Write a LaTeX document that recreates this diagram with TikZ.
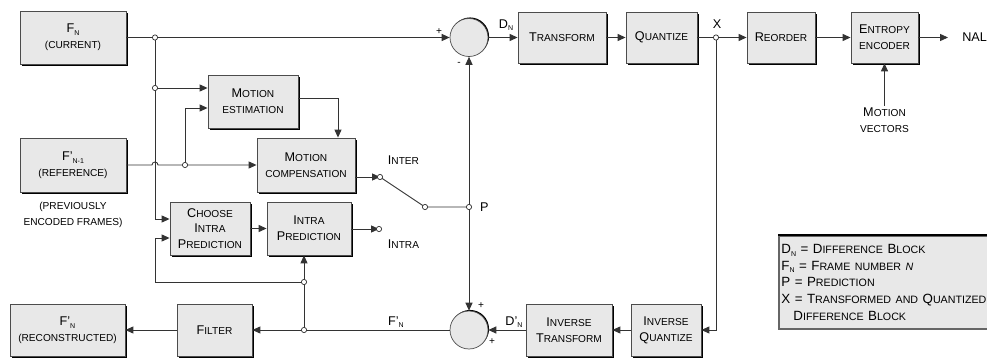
\documentclass[tikz,border=0pt]{standalone}
\usepackage{fontspec}
\usepackage{relsize}
\setmainfont{Liberation Sans}
\usetikzlibrary{arrows.meta,shadows,positioning}

\definecolor{boxgray}{RGB}{232,232,232}
\newcommand{\capsm}[1]{{\relscale{0.8}#1}}
\newcommand{\smc}[2]{#1\capsm{#2}}
\newcommand{\subx}[1]{\raisebox{-0.4ex}{\fontsize{4}{4}\selectfont #1}}

\begin{document}
\begin{tikzpicture}[
    font=\fontsize{7.2}{9}\selectfont,
    block/.style={draw=black!70,fill=boxgray,align=center,inner sep=1pt,line width=0.5pt,
        drop shadow={shadow xshift=1pt,shadow yshift=-1pt,fill=black,opacity=1}},
    sumnode/.style={draw=black!70,fill=boxgray,circle,minimum size=0.76cm,inner sep=0pt,
        drop shadow={shadow xshift=0.6pt,shadow yshift=0.6pt,fill=black,opacity=1}},
    jdot/.style={circle,draw=black!80,fill=white,inner sep=0pt,minimum size=3pt,line width=0.4pt},
    conn/.style={draw=black!80,line width=0.5pt},
    arr/.style={conn,-{Triangle[length=4.5pt,width=4pt]}},
    lbl/.style={inner sep=1pt,align=center}
]
    \useasboundingbox (0,0) rectangle (19.74,-7.16);

    % Inputs
    \node[block,minimum width=2.12cm,minimum height=1.06cm] (cur) at (1.46,-0.75) {F\subx{N}\\\capsm{(CURRENT)}};
    \node[block,minimum width=2.12cm,minimum height=1.08cm] (ref) at (1.46,-3.30) {F'\subx{N-1}\\\capsm{(REFERENCE)}};
    \node[lbl] (prev) at (1.46,-4.30) {\capsm{(PREVIOUSLY}\\\capsm{ENCODED FRAMES)}};

    % Prediction blocks
    \node[block,minimum width=1.80cm,minimum height=1.06cm] (me) at (5.06,-2.03) {\smc{M}{OTION}\\\capsm{ESTIMATION}};
    \node[block,minimum width=1.96cm,minimum height=1.08cm] (mc) at (6.12,-3.30) {\smc{M}{OTION}\\\capsm{COMPENSATION}};
    \node[block,minimum width=1.60cm,minimum height=1.06cm] (cip) at (4.20,-4.57) {\smc{C}{HOOSE}\\\smc{I}{NTRA}\\\smc{P}{REDICTION}};
    \node[block,minimum width=1.68cm,minimum height=1.06cm] (ip) at (6.18,-4.57) {\smc{I}{NTRA}\\\smc{P}{REDICTION}};

    % Forward path
    \node[sumnode] (sumA) at (9.38,-0.75) {};
    \node[block,minimum width=1.76cm,minimum height=1.02cm] (tr) at (11.24,-0.75) {\smc{T}{RANSFORM}};
    \node[block,minimum width=1.42cm,minimum height=1.02cm] (qu) at (13.23,-0.75) {\smc{Q}{UANTIZE}};
    \node[block,minimum width=1.36cm,minimum height=1.02cm] (ro) at (15.62,-0.75) {\smc{R}{EORDER}};
    \node[block,minimum width=1.34cm,minimum height=1.02cm] (ee) at (17.69,-0.75) {\smc{E}{NTROPY}\\\capsm{ENCODER}};
    \node[anchor=west,inner sep=0pt] (nal) at (19.24,-0.75) {NAL};
    \node[lbl] (mv) at (17.69,-2.40) {\smc{M}{OTION}\\\capsm{VECTORS}};

    % Reconstruction path
    \node[sumnode] (sumB) at (9.38,-6.60) {};
    \node[block,minimum width=1.72cm,minimum height=1.04cm] (it) at (11.38,-6.60) {\smc{I}{NVERSE}\\\smc{T}{RANSFORM}};
    \node[block,minimum width=1.40cm,minimum height=1.04cm] (iq) at (13.32,-6.60) {\smc{I}{NVERSE}\\\smc{Q}{UANTIZE}};
    \node[block,minimum width=1.50cm,minimum height=1.04cm] (filt) at (4.29,-6.60) {\smc{F}{ILTER}};
    \node[block,minimum width=2.30cm,minimum height=1.04cm] (recon) at (1.35,-6.60) {F'\subx{N}\\\capsm{(RECONSTRUCTED)}};

    % Junctions and switch contacts
    \coordinate (j1) at (3.10,-0.75);
    \coordinate (j2) at (3.10,-1.76);
    \coordinate (j3) at (3.70,-3.30);
    \coordinate (hop) at (3.04,-3.30);
    \coordinate (jx) at (14.32,-0.75);
    \coordinate (jp) at (9.38,-4.14);
    \coordinate (jf) at (6.08,-6.60);
    \coordinate (jl) at (6.08,-5.64);
    \coordinate (loop) at (3.10,-5.64);
    \coordinate (swA) at (7.60,-3.54);
    \coordinate (swB) at (7.58,-4.58);
    \coordinate (swP) at (8.50,-4.14);
    \coordinate (meinB) at (0,-2.16);
    \coordinate (meout) at (0,-1.96);
    \coordinate (mcin) at (6.76,0);
    \coordinate (cinA) at (0,-4.38);
    \coordinate (cinB) at (0,-4.76);

    % Connectors
    \draw[arr] (cur) -- (sumA);
    \draw[arr] (sumA) -- (tr);
    \draw[arr] (tr) -- (qu);
    \draw[arr] (qu) -- (ro);
    \draw[arr] (ro) -- (ee);
    \draw[arr,shorten >=0.28cm] (ee) -- (nal);
    \draw[arr] (mv) -- (ee);

    \draw[conn] (j1) -- (j2);
    \draw[arr] (j2) -- (me.west |- j2);
    \draw[arr] (j2) |- (cip.west |- cinA);
    \draw[arr] (ref) -- (hop) arc[start angle=180,end angle=0,radius=0.06cm] -- (mc);
    \draw[arr] (j3) |- (me.west |- meinB);
    \draw[arr] (me.east |- meout) -| (mcin |- mc.north);
    \draw[arr] (cip) -- (ip);

    \draw[arr] (mc.east |- swA) -- (swA);
    \draw[arr] (ip.east |- swB) -- (swB);
    \draw[conn] (swA) -- (swP) -- (jp);
    \draw[arr] (jp) -- (sumA);
    \draw[arr] (jp) -- (sumB);

    \draw[arr] (jx) |- (iq);
    \draw[arr] (iq) -- (it);
    \draw[arr] (it) -- (sumB);
    \draw[arr] (sumB) -- (filt);
    \draw[arr] (filt) -- (recon);
    \draw[conn] (jf) -- (jl);
    \draw[arr] (jl) -- (jl |- ip.south);
    \draw[arr] (jl) -- (loop) |- (cip.west |- cinB);

    \foreach \n in {j1,j2,j3,jx,jp,jf,jl,swA,swB,swP}
        \node[jdot] at (\n) {};

    % Signal labels
    \node[lbl] (plusA) at (8.78,-0.63) {\capsm{+}};
    \node[lbl] (minusA) at (9.18,-1.27) {\capsm{-}};
    \node[lbl] (dn) at (10.12,-0.50) {D\subx{N}};
    \node[lbl] (xl) at (14.34,-0.48) {X};
    \node[lbl,anchor=west] (pl) at (9.56,-4.14) {P};
    \node[lbl] (interl) at (8.07,-3.20) {\smc{I}{NTER}};
    \node[lbl] (intral) at (8.07,-4.88) {\smc{I}{NTRA}};
    \node[lbl] (plusB) at (9.62,-6.12) {\capsm{+}};
    \node[lbl] (plusC) at (9.84,-6.84) {\capsm{+}};
    \node[lbl] (fnl) at (7.92,-6.44) {F'\subx{N}};
    \node[lbl] (dnl) at (10.28,-6.44) {D'\subx{N}};

    % Legend
    \node[draw=black!60,fill=boxgray,line width=0.9pt,anchor=north west,align=left,
          text width=4.7cm,minimum height=1.86cm,inner xsep=1.5pt,
          font=\fontsize{7.6}{9.5}\selectfont] (legend) at (15.56,-4.70)
        {D\subx{N} = \smc{D}{IFFERENCE} \smc{B}{LOCK}\\
         F\subx{N} = \smc{F}{RAME NUMBER} \capsm{\itshape N}\\
         P = \smc{P}{REDICTION}\\
         X = \smc{T}{RANSFORMED AND} \smc{Q}{UANTIZED}\\
         \hspace*{0.9em}\smc{D}{IFFERENCE} \smc{B}{LOCK}};
    \draw[line width=1.3pt] (legend.north west) -- (legend.north east);
\end{tikzpicture}
\end{document}
